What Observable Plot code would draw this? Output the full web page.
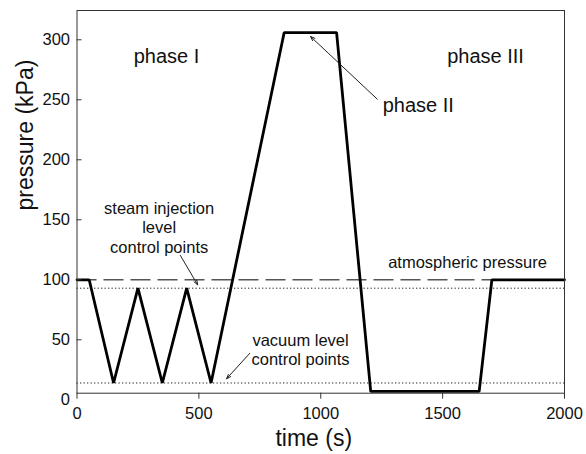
<!DOCTYPE html>
<html><head><meta charset="utf-8">
<script src="https://cdn.jsdelivr.net/npm/d3@7"></script>
<script src="https://cdn.jsdelivr.net/npm/@observablehq/plot@0.6"></script>
<style>body{margin:0;background:#fff}</style>
</head><body><div id="chart"></div>
<script>
// pressure profile
const timeS = [0, 50, 150, 250, 350, 450, 550, 850, 1065, 1205, 1650, 1702, 2000];
const pressureKPa = [100, 100, 14, 93, 14, 93, 14, 306, 306, 7, 7, 100, 100];
// reference levels
const atmosphericLevel = [100];
const controlLevels = [93, 14];
// ticks
const xTicks = [0, 500, 1000, 1500, 2000];
const yTicks = [0, 50, 100, 150, 200, 250, 300];
// annotations
const labelTexts = ["phase I", "phase II", "phase III", "steam injection\nlevel\ncontrol points", "vacuum level\ncontrol points", "atmospheric pressure"];
const labelX = [367, 1400, 1676, 337, 917, 1602];
const labelY = [286.7, 246.4, 286.7, 144, 42.2, 114.9];
const labelSize = [20, 20, 20, 16.5, 16.5, 16.5];
const arrowX1 = [1232, 424, 709];
const arrowY1 = [250.5, 120.3, 38.8];
const arrowX2 = [958, 495, 613.5];
const arrowY2 = [302.75, 95.8, 17.5];

const series = timeS.map((t, i) => ({t, p: pressureKPa[i]}));
const labels = labelTexts.map((s, i) => ({s, x: labelX[i], y: labelY[i], fs: labelSize[i]}));
const arrows = arrowX1.map((x1, i) => ({x1, y1: arrowY1[i], x2: arrowX2[i], y2: arrowY2[i]}));

const chart = Plot.plot({
  width: 586, height: 454,
  marginLeft: 76.5, marginRight: 22, marginTop: 10, marginBottom: 61.3,
  style: {fontFamily: "'Liberation Sans', Arial, sans-serif", color: "#111", background: "#fff"},
  x: {domain: [0, 2000]},
  y: {domain: [5.5, 324.4]},
  marks: [
    Plot.ruleY(controlLevels, {stroke: "#222", strokeWidth: 1, strokeDasharray: "1.3,2.2"}),
    Plot.ruleY(atmosphericLevel, {stroke: "#555", strokeWidth: 1.6, strokeDasharray: "20,7"}),
    Plot.line(series, {x: "t", y: "p", stroke: "#000", strokeWidth: 2.8, strokeLinejoin: "miter"}),
    Plot.arrow(arrows, {x1: "x1", y1: "y1", x2: "x2", y2: "y2", stroke: "#222", strokeWidth: 1, headLength: 7, headAngle: 40}),
    Plot.text(labels, {x: "x", y: "y", text: "s", fontSize: "fs", lineHeight: 1.2, fill: "#111"}),
    Plot.frame({stroke: "#333", strokeWidth: 1}),
    Plot.axisX(xTicks, {tickSize: 6, tickPadding: 8, fontSize: 16.5, tickFormat: d => String(d), label: null, stroke: "#333", fill: "#111"}),
    Plot.axisY(yTicks, {tickSize: 0, tickPadding: 7, fontSize: 16.5, tickFormat: d => String(d), label: null, fill: "#111"}),
    Plot.axisY(yTicks.slice(1), {tickSize: -5, fill: "none", label: null, stroke: "#333"}),
    Plot.text(["time (s)"], {frameAnchor: "bottom", dx: -7, dy: 52.5, fontSize: 23, fill: "#111"}),
    Plot.text(["pressure (kPa)"], {frameAnchor: "left", rotate: -90, dx: -50.9, dy: 8.6, fontSize: 23, fill: "#111"})
  ]
});
document.getElementById("chart").appendChild(chart);
</script>
</body></html>
